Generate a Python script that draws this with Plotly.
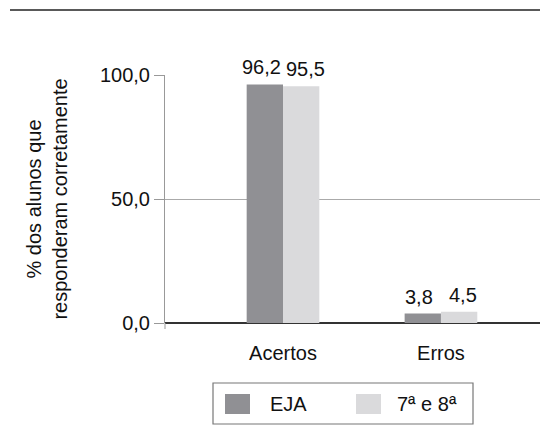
import plotly.graph_objects as go

categories = ["Acertos", "Erros"]
series_names = ["EJA", "7ª e 8ª"]
eja_values = [96.2, 3.8]
serie78_values = [95.5, 4.5]
y_tick_values = [0, 50, 100]

colors = ["#909094", "#dadadc"]
label_shift = [-22, 22]   # px offset of value labels from category centre
font_family = "Liberation Sans, Arial, sans-serif"
FS = 20

fig = go.Figure()
for name, vals, col in zip(series_names, [eja_values, serie78_values], colors):
    fig.add_trace(go.Bar(
        x=list(range(len(categories))), y=vals, name=name,
        marker=dict(color=col, line=dict(width=0)),
    ))

# value labels (formatted with comma decimal)
for vals, dx in zip([eja_values, serie78_values], label_shift):
    for i, v in enumerate(vals):
        fig.add_annotation(x=i, y=v, xref="x", yref="y",
                           text=f"{v:.1f}".replace(".", ","), showarrow=False,
                           xanchor="center", yanchor="bottom", xshift=dx, yshift=4,
                           font=dict(size=20, color="#111"))

L, T, B = 165, 75, 116
W, H = 540, 439
pw, ph = W - L, H - T - B

fig.update_layout(
    width=W, height=H, separators=",.",
    margin=dict(l=L, r=0, t=T, b=B, pad=0),
    plot_bgcolor="white", paper_bgcolor="white",
    barmode="group", bargap=0.54, bargroupgap=0,
    showlegend=False,
    font=dict(family=font_family, size=FS, color="#111"),
    xaxis=dict(
        tickmode="array", tickvals=list(range(len(categories))), ticktext=categories,
        range=[-0.747, 1.627], showgrid=False, zeroline=False,
        showline=False, ticks="", ticklabelstandoff=16,
        tickfont=dict(size=FS),
    ),
    yaxis=dict(
        range=[0, 100], tickvals=y_tick_values, tickformat=".1f",
        showgrid=True, gridcolor="#aaaaaa", gridwidth=1,
        zeroline=True, zerolinecolor="#333333", zerolinewidth=1.5,
        showline=True, linecolor="#999999", linewidth=1,
        ticks="outside", ticklen=10, tickcolor="#999999",
        tickfont=dict(size=FS),
        title=dict(text="% dos alunos que<br>responderam corretamente",
                   font=dict(size=20), standoff=26),
    ),
)

# top rule
fig.add_shape(type="line", xref="paper", yref="paper",
              x0=(10 - L) / pw, x1=1, y0=1 + (T - 10) / ph, y1=1 + (T - 10) / ph,
              line=dict(color="#222222", width=1.5))
# small tick below axis origin
fig.add_shape(type="line", xref="paper", yref="paper",
              x0=0, x1=0, y0=0, y1=-6 / ph, line=dict(color="#999999", width=1))

# legend (manual)
def px_x(x):
    return (x - L) / pw

def px_y(y):
    return (H - B - y) / ph

fig.add_shape(type="rect", xref="paper", yref="paper",
              x0=px_x(213), x1=px_x(473), y0=px_y(383), y1=px_y(424),
              line=dict(color="#777777", width=1.2), fillcolor="rgba(0,0,0,0)")
legend_pos = [(225, 268), (356, 395)]
for (sx, tx), name, col in zip(legend_pos, series_names, colors):
    fig.add_shape(type="rect", xref="paper", yref="paper",
                  x0=px_x(sx), x1=px_x(sx + 25), y0=px_y(394), y1=px_y(414),
                  line=dict(width=0), fillcolor=col)
    fig.add_annotation(xref="paper", yref="paper", x=px_x(tx), y=px_y(404),
                       text=name, showarrow=False, xanchor="left", yanchor="middle",
                       font=dict(size=FS, color="#111"))

fig.write_html("out.html", config={"displayModeBar": False},
               post_script="document.body.style.margin='0';document.body.style.overflow='hidden';")
